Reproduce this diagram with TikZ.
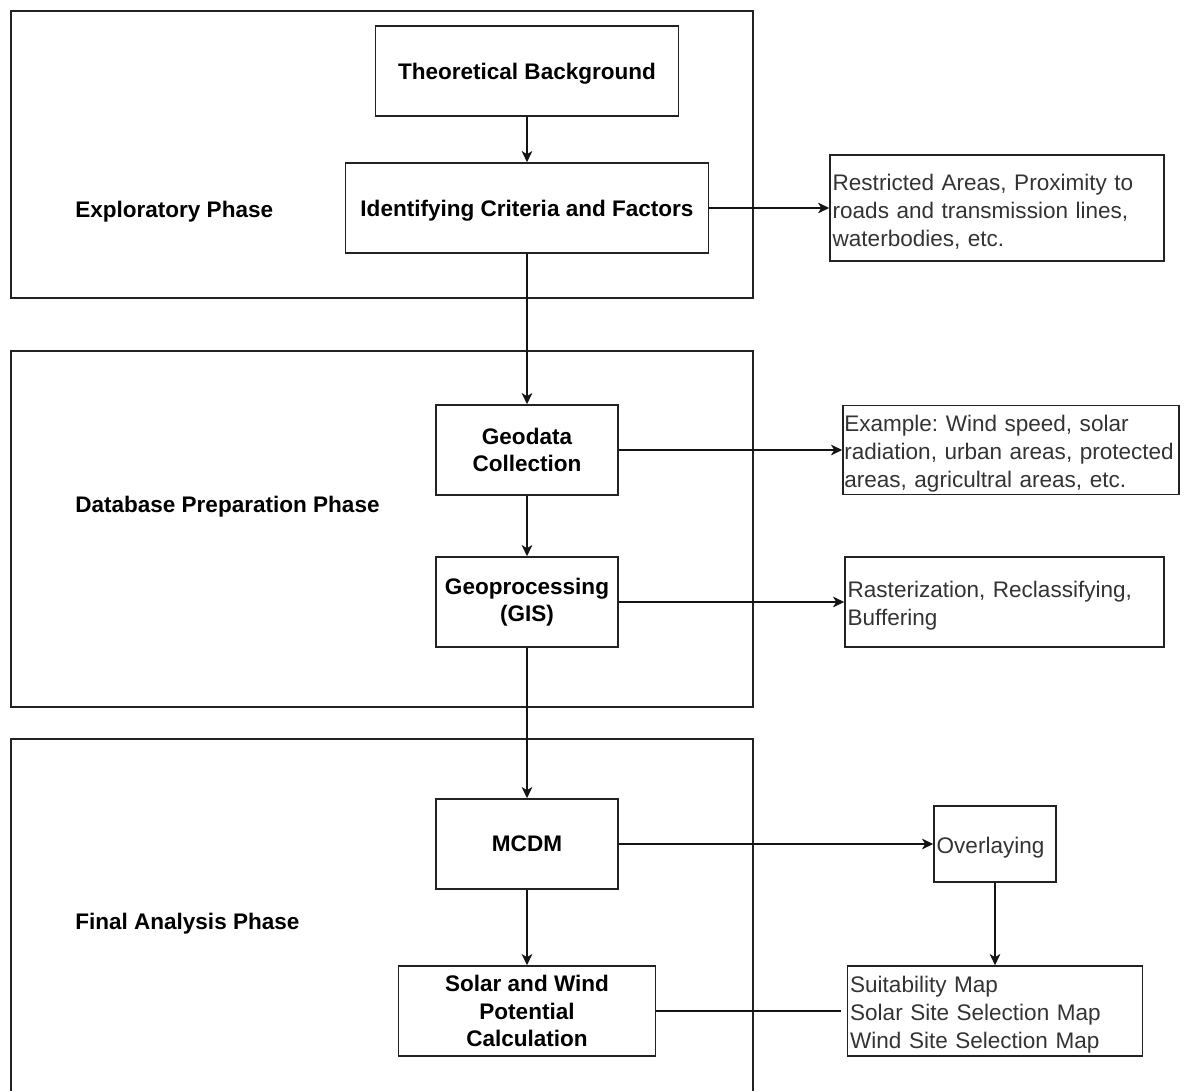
\documentclass[tikz,border=0pt]{standalone}
\usepackage{fontspec}
\setmainfont{Liberation Sans}
\usetikzlibrary{arrows.meta}

\tikzset{
  phasebox/.style={draw={rgb, 255:red, 34; green, 34; blue, 34 }, line width=1.1pt},
  boldbox/.style={draw={rgb, 255:red, 34; green, 34; blue, 34 }, line width=1.1pt, align=center, inner sep=2pt,
    font=\fontsize{16.9}{20.5}\selectfont\bfseries, text=black},
  notebox/.style={draw={rgb, 255:red, 34; green, 34; blue, 34 }, line width=1.1pt, align=left, inner xsep=2pt, inner ysep=2pt,
    font=\fontsize{16.9}{21}\selectfont\frenchspacing, text={rgb, 255:red, 51; green, 51; blue, 51 },
    execute at begin node={\hyphenpenalty=10000\rule{0pt}{17.5pt}}},
  phaselabel/.style={anchor=west, inner xsep=0pt, text depth=0pt, font=\fontsize{16.9}{20.5}\selectfont\bfseries, text=black},
  link/.style={line width=1pt, draw={rgb, 255:red, 20; green, 20; blue, 20 }, -{Stealth[length=8.5pt,width=8pt,inset=2.5pt]}},
  plainlink/.style={line width=1pt, draw={rgb, 255:red, 20; green, 20; blue, 20 }},
}

\begin{document}
\begin{tikzpicture}[x=0.75pt,y=0.75pt,yscale=-1]
%set diagram to 1186 x 1091
\path [use as bounding box] (0,0) rectangle (1186,1091);

%Shape: Rectangle [id:exploratory]
\draw [phasebox] (11,11) rectangle (753,298);
%Shape: Rectangle [id:database]
\draw [phasebox] (11,351) rectangle (753,707);
%Shape: Open Rectangle [id:final]
\draw [phasebox] (11,1091) -- (11,739) -- (753,739) -- (753,1091);

% Text Node
\draw (75,209) node [phaselabel] (explore) {Exploratory Phase};
% Text Node
\draw (75,504) node [phaselabel] (prepare) {Database Preparation Phase};
% Text Node
\draw (75,921) node [phaselabel] (analyse) {Final Analysis Phase};

% Text Node
\draw (527,71) node [boldbox, text depth=0pt, minimum width=227.25pt, minimum height=67.5pt] (theo) {Theoretical Background};
% Text Node
\draw (527,208) node [boldbox, text depth=0pt, minimum width=272.25pt, minimum height=67.5pt] (ident) {Identifying Criteria and Factors};
% Text Node
\draw (997,208) node [notebox, minimum width=250.5pt, minimum height=79.5pt, text width=246.5pt] (restr) {Restricted Areas, Proximity to\\roads and transmission lines,\\waterbodies, etc.};

% Text Node
\draw (527,450) node [boldbox, minimum width=136.5pt, minimum height=67.5pt] (geodata) {Geodata\\Collection};
% Text Node
\draw (1011,450) node [notebox, inner xsep=1pt, minimum width=249pt, minimum height=66pt, text width=250pt] (example) {Example: Wind speed, solar\\radiation, urban areas, protected\\areas, agricultral areas, etc.};
% Text Node
\draw (527,602) node [boldbox, minimum width=136.5pt, minimum height=67.5pt] (geoproc) {Geoprocessing\\(GIS)};
% Text Node
\draw (1004.5,602) node [notebox, minimum width=239.25pt, minimum height=67.5pt, text width=235.25pt] (raster) {Rasterization, Reclassifying,\\Buffering};

% Text Node
\draw (527,844) node [boldbox, text depth=0pt, minimum width=136.5pt, minimum height=67.5pt] (mcdm) {MCDM};
% Text Node
\draw (995,844) node [notebox, minimum width=91.5pt, minimum height=57pt, text width=87.5pt] (overlay) {Overlaying};
% Text Node
\draw (527,1011) node [boldbox, minimum width=192.75pt, minimum height=67.5pt] (solar) {Solar and Wind\\Potential\\Calculation};
% Text Node
\draw (995,1011) node [notebox, minimum width=221.25pt, minimum height=67.5pt, text width=217.25pt] (suit) {Suitability Map\\Solar Site Selection Map\\Wind Site Selection Map};

%Straight Lines
\draw [link] (theo) -- (ident);
\draw [link] (ident) -- (geodata);
\draw [link] (ident) -- (restr);
\draw [link] (geodata) -- (example);
\draw [link] (geodata) -- (geoproc);
\draw [link] (geoproc) -- (raster);
\draw [link] (geoproc) -- (mcdm);
\draw [link] (mcdm) -- (overlay);
\draw [link] (mcdm) -- (solar);
\draw [link] (overlay) -- (suit);
\draw [plainlink, shorten >=4pt] (solar) -- (suit);

\end{tikzpicture}
\end{document}
